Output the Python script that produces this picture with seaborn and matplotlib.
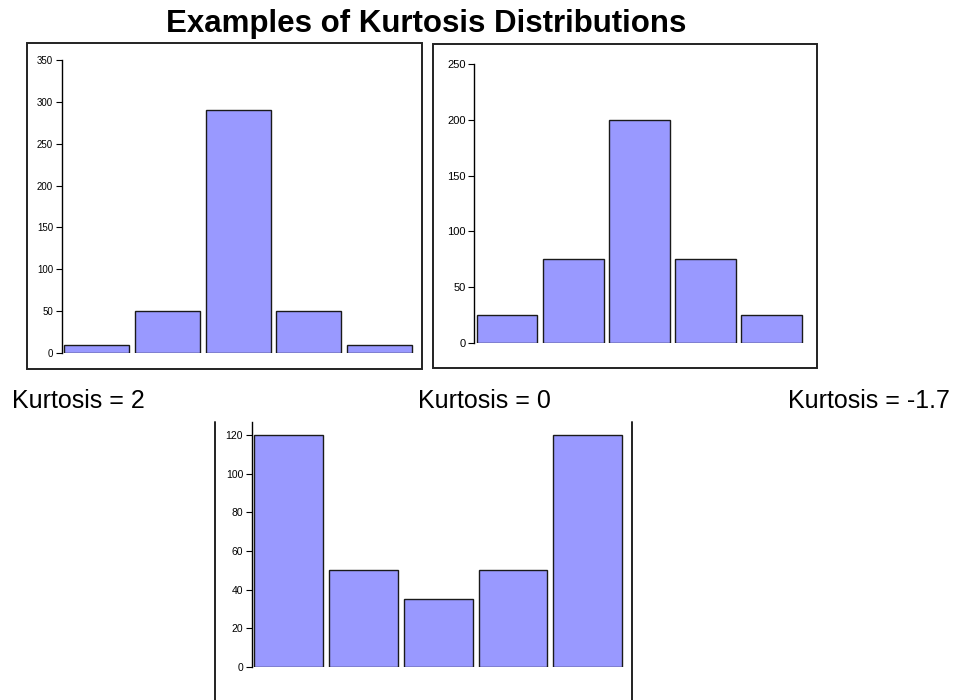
import matplotlib
matplotlib.use("Agg")
import matplotlib.pyplot as plt
from matplotlib.patches import Rectangle
from matplotlib.lines import Line2D
import seaborn as sns
import pandas as pd

bins = ["1", "2", "3", "4", "5"]
lepto_values = [10, 50, 290, 50, 10]
meso_values = [25, 75, 200, 75, 25]
platy_values = [120, 50, 35, 50, 120]
kurtosis_labels = ["Kurtosis = 2", "Kurtosis = 0", "Kurtosis = -1.7"]
title = "Examples of Kurtosis Distributions"

sns.set_style("white")
plt.rcParams["font.family"] = ["Liberation Sans", "DejaVu Sans"]
plt.rcParams["text.color"] = "black"

W, H = 958, 700
fig = plt.figure(figsize=(W / 100, H / 100), dpi=100)

def fx(px):
    return px / W

def fy(py):
    return 1 - py / H

BAR_COLOR = "#9999FF"

def panel(left, right, y0, ytop, values, ylim, ticks, fs):
    ax = fig.add_axes([fx(left), fy(y0), fx(right - left), (y0 - ytop) / H])
    df = pd.DataFrame({"bin": bins, "count": values})
    sns.barplot(data=df, x="bin", y="count", color=BAR_COLOR, width=0.92,
                edgecolor="#1a1a1a", linewidth=1.0, saturation=1, ax=ax)
    ax.set_xlim(-0.5, 4.5)
    ax.set_ylim(*ylim)
    ax.set_yticks(ticks)
    ax.set_xticks([])
    ax.set_xlabel("")
    ax.set_ylabel("")
    for s in ["top", "right", "bottom"]:
        ax.spines[s].set_visible(False)
    ax.spines["left"].set_linewidth(1.0)
    ax.spines["left"].set_color("black")
    ax.tick_params(axis="y", direction="out", length=4, width=0.8,
                   labelsize=fs, pad=2, colors="black", left=True)
    ax.patch.set_alpha(0)
    return ax

# frames
fig.patches.append(Rectangle((fx(27), fy(369)), fx(422 - 27), (369 - 43) / H,
                             transform=fig.transFigure, fill=False,
                             edgecolor="#222222", linewidth=1.4))
fig.patches.append(Rectangle((fx(433), fy(368)), fx(817 - 433), (368 - 44) / H,
                             transform=fig.transFigure, fill=False,
                             edgecolor="#222222", linewidth=1.4))
for xv in (215, 632):
    fig.add_artist(Line2D([fx(xv), fx(xv)], [fy(422), fy(705)],
                          transform=fig.transFigure, color="#222222",
                          linewidth=1.4))

panel(61.5, 415, 353, 60, lepto_values, (0, 350), list(range(0, 351, 50)), 7)
panel(474, 804.5, 343, 64, meso_values, (0, 250), list(range(0, 251, 50)), 8)
panel(251.5, 625, 667, 422, platy_values, (0, 126.7), list(range(0, 121, 20)), 7.5)

fig.text(fx(426), fy(32), title, ha="center", va="baseline",
         fontsize=22.5, fontweight="bold", color="black")
for x, lab in zip([12, 418, 788], kurtosis_labels):
    fig.text(fx(x), fy(408), lab, ha="left", va="baseline", fontsize=18,
             color="black")

fig.savefig("out.png", dpi=100, facecolor="white")
